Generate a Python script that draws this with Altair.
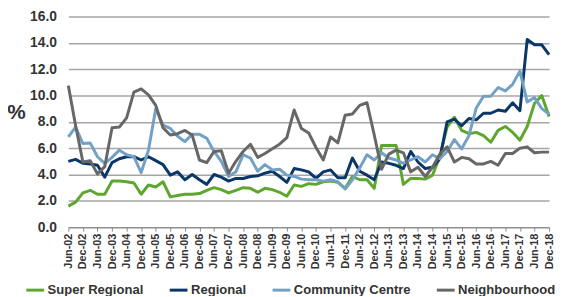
import altair as alt
import pandas as pd

# Quarter category labels, Jun-02 .. Dec-18
months = ["Mar", "Jun", "Sep", "Dec"]
quarters = []
for yr in range(2002, 2019):
    for m in months:
        if yr == 2002 and m == "Mar":
            continue
        quarters.append(f"{m}-{yr % 100:02d}")
tick_labels = quarters[::2]

series_names = ["Super Regional", "Regional", "Community Centre", "Neighbourhood"]
series_colors = ["#5ea72e", "#0b3768", "#73a1c6", "#676767"]

super_regional = [1.6, 1.9, 2.6, 2.8, 2.5, 2.5, 3.5, 3.5, 3.45, 3.35, 2.5, 3.2, 3.05, 3.45, 2.3, 2.4,
                  2.5, 2.5, 2.55, 2.8, 3.0, 2.85, 2.6, 2.8, 3.0, 2.95, 2.65, 2.95, 2.85, 2.65, 2.35, 3.2,
                  3.1, 3.3, 3.25, 3.45, 3.5, 3.4, 2.95, 3.85, 3.6, 3.6, 2.95, 6.2, 6.2, 6.2, 3.25, 3.7,
                  3.7, 3.65, 3.95, 5.35, 7.6, 8.35, 7.35, 7.1, 7.2, 6.95, 6.45, 7.35, 7.65, 7.2, 6.6, 7.65,
                  9.4, 10.0, 8.4]
regional = [5.0, 5.15, 4.85, 4.8, 4.7, 3.8, 4.9, 5.2, 5.35, 5.35, 5.1, 5.35, 5.05, 4.75, 3.95, 4.2,
            3.6, 4.0, 3.6, 3.25, 4.0, 3.8, 3.5, 3.7, 3.7, 3.85, 3.9, 4.1, 4.25, 3.85, 3.4, 4.45,
            4.35, 4.2, 3.7, 4.2, 4.35, 3.75, 3.75, 5.25, 4.25, 3.95, 3.6, 4.95, 4.85, 4.7, 4.45, 5.75,
            4.95, 4.45, 4.55, 5.2, 8.0, 8.2, 7.7, 8.25, 8.15, 8.65, 8.65, 8.9, 8.8, 9.45, 8.85, 14.25,
            13.85, 13.85, 13.1]
community_centre = [6.85, 7.6, 6.35, 6.4, 5.35, 4.85, 5.3, 5.85, 5.5, 5.35, 4.15, 5.85, 9.0, 7.75, 7.5, 6.9,
                    6.5, 7.05, 7.05, 6.75, 5.75, 5.0, 3.85, 4.2, 5.5, 5.25, 4.25, 4.75, 4.35, 4.4, 3.95, 3.85,
                    3.65, 3.6, 3.6, 3.5, 3.6, 3.45, 2.9, 3.6, 4.5, 5.5, 5.1, 5.65, 5.25, 5.1, 4.85, 5.1,
                    5.35, 4.95, 5.5, 5.2, 5.75, 6.65, 5.95, 6.95, 9.05, 9.95, 9.95, 10.6, 10.35, 10.85, 11.85, 9.5,
                    9.85, 9.0, 8.6]
neighbourhood = [10.75, 7.7, 4.95, 5.05, 4.05, 4.6, 7.55, 7.6, 8.3, 10.25, 10.5, 10.05, 9.25, 7.55, 7.0, 7.1,
                 7.35, 7.0, 5.1, 4.9, 5.75, 5.8, 4.1, 5.0, 5.75, 6.3, 5.3, 5.6, 5.95, 6.3, 6.8, 8.9,
                 7.5, 7.15, 6.05, 5.1, 6.85, 6.4, 8.5, 8.6, 9.25, 9.45, 7.0, 4.4, 5.55, 5.85, 5.65, 4.2,
                 4.55, 3.85, 4.55, 5.55, 6.1, 4.95, 5.3, 5.2, 4.8, 4.8, 5.0, 4.7, 5.6, 5.6, 6.0, 6.1,
                 5.65, 5.7, 5.7]

y_ticks = [0, 2, 4, 6, 8, 10, 12, 14, 16]

rows = []
for name, vals in zip(series_names, [super_regional, regional, community_centre, neighbourhood]):
    for q, v in zip(quarters, vals):
        rows.append({"quarter": q, "series": name, "value": v})
df = pd.DataFrame(rows)

FONT = "Liberation Sans"
TXT = "#333333"

chart = alt.Chart(df).mark_line(strokeWidth=3, strokeJoin="round").encode(
    x=alt.X("quarter:O", sort=quarters,
            scale=alt.Scale(type="point", padding=0),
            axis=alt.Axis(values=tick_labels, title=None, labelAngle=270, labelAlign="right",
                          labelBaseline="middle", labelFont=FONT, labelFontSize=11,
                          labelFontWeight="bold", labelColor=TXT, labelPadding=2,
                          tickSize=4, tickColor="#8c8c8c", domainColor="#8c8c8c",
                          grid=False, labelOverlap=False)),
    y=alt.Y("value:Q", scale=alt.Scale(domain=[0, 16], nice=False),
            axis=alt.Axis(values=y_ticks, format=".1f", title="%", titleAngle=0,
                          titleX=-53, titleY=97, titleAlign="center", titleBaseline="middle",
                          titleFont=FONT, titleFontSize=21, titleFontWeight="bold", titleColor=TXT,
                          labelFont=FONT, labelFontSize=14, labelFontWeight="bold", labelColor=TXT,
                          labelPadding=12, ticks=False, domain=False,
                          grid=True, gridColor="#a6a6a6", gridWidth=1.5)),
    color=alt.Color("series:N", sort=series_names,
                    scale=alt.Scale(domain=series_names, range=series_colors),
                    legend=alt.Legend(title=None, orient="none", legendX=-44, legendY=266,
                                      direction="horizontal", columns=4,
                                      symbolType="stroke", symbolSize=324, symbolStrokeWidth=3,
                                      labelFont=FONT, labelFontSize=13.2, labelFontWeight="bold",
                                      labelColor=TXT, labelOffset=2, columnPadding=20,
                                      labelLimit=0, padding=0)),
).properties(
    width=486, height=213,
    autosize=alt.AutoSizeParams(type="none"),
    padding={"left": 61, "top": 7, "right": 6, "bottom": 68},
).configure_view(stroke=None)

chart.save("out.html", embed_options={"renderer": "svg", "actions": False})
